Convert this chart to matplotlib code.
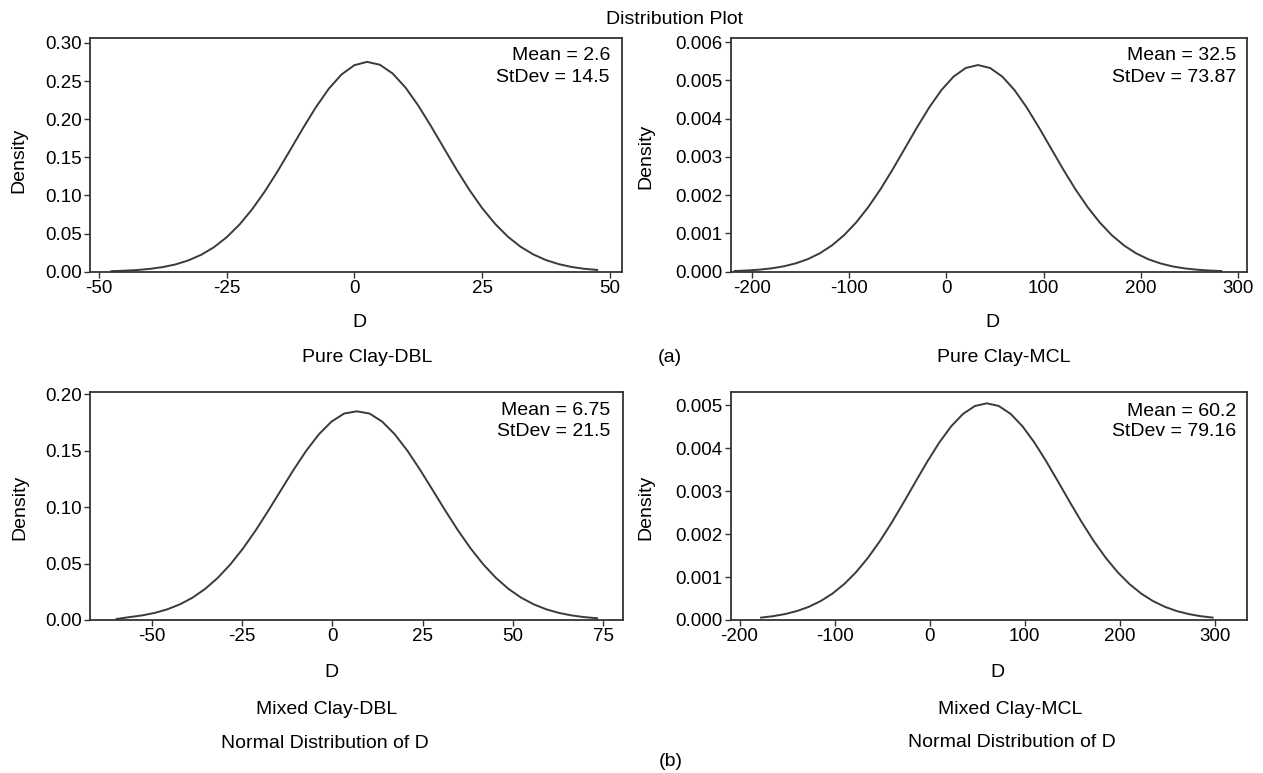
import matplotlib
matplotlib.use("Agg")
import matplotlib.pyplot as plt

plt.rcParams['font.family'] = ['Liberation Sans', 'DejaVu Sans']

# ---------------- data ----------------
# Pure Clay-DBL
pc_dbl_x = [-47.5, -45, -42.5, -40, -37.5, -35, -32.5, -30, -27.5, -25, -22.5, -20,
            -17.5, -15, -12.5, -10, -7.5, -5, -2.5, 0, 2.5, 5, 7.5, 10, 12.5, 15,
            17.5, 20, 22.5, 25, 27.5, 30, 32.5, 35, 37.5, 40, 42.5, 45, 47.5]
pc_dbl_y = [0.0007, 0.0013, 0.0022, 0.0037, 0.0060, 0.0095, 0.0147, 0.0220, 0.0319,
            0.0450, 0.0615, 0.0817, 0.1053, 0.1317, 0.1600, 0.1886, 0.2158, 0.2398,
            0.2586, 0.2707, 0.2751, 0.2713, 0.2598, 0.2415, 0.2179, 0.1908, 0.1623,
            0.1339, 0.1073, 0.0834, 0.0630, 0.0461, 0.0328, 0.0227, 0.0152, 0.0099,
            0.0062, 0.0038, 0.0023]

# Pure Clay-MCL
pc_mcl_x = [-217.5, -205, -192.5, -180, -167.5, -155, -142.5, -130, -117.5, -105, -92.5,
            -80, -67.5, -55, -42.5, -30, -17.5, -5, 7.5, 20, 32.5, 45, 57.5, 70, 82.5,
            95, 107.5, 120, 132.5, 145, 157.5, 170, 182.5, 195, 207.5, 220, 232.5, 245,
            257.5, 270, 282.5]
pc_mcl_y = [0.0000176, 0.0000307, 0.0000522, 0.0000862, 0.000138, 0.000216, 0.000326,
            0.000480, 0.000687, 0.000955, 0.001290, 0.001694, 0.002160, 0.002678,
            0.003226, 0.003776, 0.004295, 0.004748, 0.005100, 0.005324, 0.005401,
            0.005324, 0.005100, 0.004748, 0.004295, 0.003776, 0.003226, 0.002678,
            0.002160, 0.001694, 0.001290, 0.000955, 0.000687, 0.000480, 0.000326,
            0.000216, 0.000138, 0.0000862, 0.0000522, 0.0000307, 0.0000176]

# Mixed Clay-DBL
mc_dbl_x = [-59.75, -56.25, -52.75, -49.25, -45.75, -42.25, -38.75, -35.25, -31.75, -28.25,
            -24.75, -21.25, -17.75, -14.25, -10.75, -7.25, -3.75, -0.25, 3.25, 6.75,
            10.25, 13.75, 17.25, 20.75, 24.25, 27.75, 31.25, 34.75, 38.25, 41.75,
            45.25, 48.75, 52.25, 55.75, 59.25, 62.75, 66.25, 69.75, 73.25]
mc_dbl_y = [0.0009, 0.00254, 0.00403, 0.00624, 0.00941, 0.01382, 0.01976, 0.02752, 0.03733,
            0.04931, 0.06342, 0.07944, 0.09691, 0.11513, 0.13319, 0.15006, 0.16465,
            0.17592, 0.18306, 0.1850, 0.18306, 0.17592, 0.16465, 0.15006, 0.13319,
            0.11513, 0.09691, 0.07944, 0.06342, 0.04931, 0.03733, 0.02752, 0.01976,
            0.01382, 0.00941, 0.00624, 0.00403, 0.00254, 0.00155]

# Mixed Clay-MCL
mc_mcl_x = [-177.3, -164.8, -152.3, -139.8, -127.3, -114.8, -102.3, -89.8, -77.3, -64.8,
            -52.3, -39.8, -27.3, -14.8, -2.3, 10.2, 22.7, 35.2, 47.7, 60.2, 72.7, 85.2,
            97.7, 110.2, 122.7, 135.2, 147.7, 160.2, 172.7, 185.2, 197.7, 210.2, 222.7,
            235.2, 247.7, 260.2, 272.7, 285.2, 297.7]
mc_mcl_y = [0.0000559, 0.0000887, 0.000137, 0.000207, 0.000305, 0.000438, 0.000613,
            0.000837, 0.001115, 0.001449, 0.001836, 0.002269, 0.002736, 0.003217,
            0.003690, 0.004129, 0.004505, 0.004795, 0.004978, 0.005040, 0.004978,
            0.004795, 0.004505, 0.004129, 0.003690, 0.003217, 0.002736, 0.002269,
            0.001836, 0.001449, 0.001115, 0.000837, 0.000613, 0.000438, 0.000305,
            0.000207, 0.000137, 0.0000887, 0.0000559]

annot_text = [("Mean = 2.6", "StDev = 14.5"), ("Mean = 32.5", "StDev = 73.87"),
              ("Mean = 6.75", "StDev = 21.5"), ("Mean = 60.2", "StDev = 79.16")]
subtitles = ["Pure Clay-DBL", "Pure Clay-MCL", "Mixed Clay-DBL", "Mixed Clay-MCL"]

x_ticks = [[-50, -25, 0, 25, 50], [-200, -100, 0, 100, 200, 300],
           [-50, -25, 0, 25, 50, 75], [-200, -100, 0, 100, 200, 300]]
y_ticks = [[0.00, 0.05, 0.10, 0.15, 0.20, 0.25, 0.30],
           [0.000, 0.001, 0.002, 0.003, 0.004, 0.005, 0.006],
           [0.00, 0.05, 0.10, 0.15, 0.20],
           [0.000, 0.001, 0.002, 0.003, 0.004, 0.005]]
y_fmt = ["{:.2f}", "{:.3f}", "{:.2f}", "{:.3f}"]

# ---------------- layout ----------------
W, H = 1263, 773
fig = plt.figure(figsize=(W / 100, H / 100), dpi=100)

def px_rect(l, t, r, b):
    return [l / W, 1 - b / H, (r - l) / W, (b - t) / H]

def ftext(x, y, s, **kw):
    fig.text(x / W, 1 - y / H, s, **kw)

rects = [px_rect(90, 38.3, 621.7, 271.7), px_rect(730.7, 38.3, 1246.7, 271.7),
         px_rect(90, 391.7, 623.3, 620), px_rect(730.7, 391.7, 1246.7, 620)]
xlims = [(-51.7, 52.3), (-221.5, 308.6), (-67.1, 80.5), (-209.3, 333.6)]
ylims = [(0, 0.306), (0, 0.0061), (0, 0.2024), (0, 0.00531)]
xs = [pc_dbl_x, pc_mcl_x, mc_dbl_x, mc_mcl_x]
ys = [pc_dbl_y, pc_mcl_y, mc_dbl_y, mc_mcl_y]

FS = 14
TFS = 13.5
line_col = "#3a3a3a"
ann_x = [610, 1236, 610, 1236]
ann_y = [(56, 77), (56, 77), (410.5, 432), (411, 432)]

for i in range(4):
    ax = fig.add_axes(rects[i])
    ax.plot(xs[i], ys[i], color=line_col, lw=1.4)
    ax.set_xlim(*xlims[i])
    ax.set_ylim(*ylims[i])
    ax.set_xticks(x_ticks[i])
    ax.set_xticklabels([str(v) for v in x_ticks[i]])
    ax.set_yticks(y_ticks[i])
    ax.set_yticklabels([y_fmt[i].format(v) for v in y_ticks[i]])
    ax.tick_params(direction='out', length=4, width=1, colors='#333333',
                   labelcolor='black', labelsize=TFS, pad=2)
    for sp in ax.spines.values():
        sp.set_color('#333333')
        sp.set_linewidth(1.3)
    a1, a2 = annot_text[i]
    ftext(ann_x[i], ann_y[i][0], a1, ha='right', va='center', fontsize=FS)
    ftext(ann_x[i], ann_y[i][1], a2, ha='right', va='center', fontsize=FS)

# axis labels and captions
ftext(674, 20, "Distribution Plot", ha='center', va='center', fontsize=FS)

ftext(18.6, 160, "Density", ha='center', va='center', rotation=90, fontsize=FS)
ftext(646, 156, "Density", ha='center', va='center', rotation=90, fontsize=FS)
ftext(19.5, 507, "Density", ha='center', va='center', rotation=90, fontsize=FS)
ftext(646, 507, "Density", ha='center', va='center', rotation=90, fontsize=FS)

ftext(359, 322.6, "D", ha='center', va='center', fontsize=FS)
ftext(992, 322.6, "D", ha='center', va='center', fontsize=FS)
ftext(331, 672.6, "D", ha='center', va='center', fontsize=FS)
ftext(997, 672.5, "D", ha='center', va='center', fontsize=FS)

ftext(367, 357.5, subtitles[0], ha='center', va='center', fontsize=FS)
ftext(1004, 357.5, subtitles[1], ha='center', va='center', fontsize=FS)
ftext(327, 709.5, subtitles[2], ha='center', va='center', fontsize=FS)
ftext(1010, 709.3, subtitles[3], ha='center', va='center', fontsize=FS)

ftext(325, 743, "Normal Distribution of D", ha='center', va='center', fontsize=FS)
ftext(1012, 742.7, "Normal Distribution of D", ha='center', va='center', fontsize=FS)

ftext(670, 358, "(a)", ha='center', va='center', fontsize=FS)
ftext(671, 761, "(b)", ha='center', va='center', fontsize=FS)

fig.savefig("out.png", dpi=100, facecolor='white')
